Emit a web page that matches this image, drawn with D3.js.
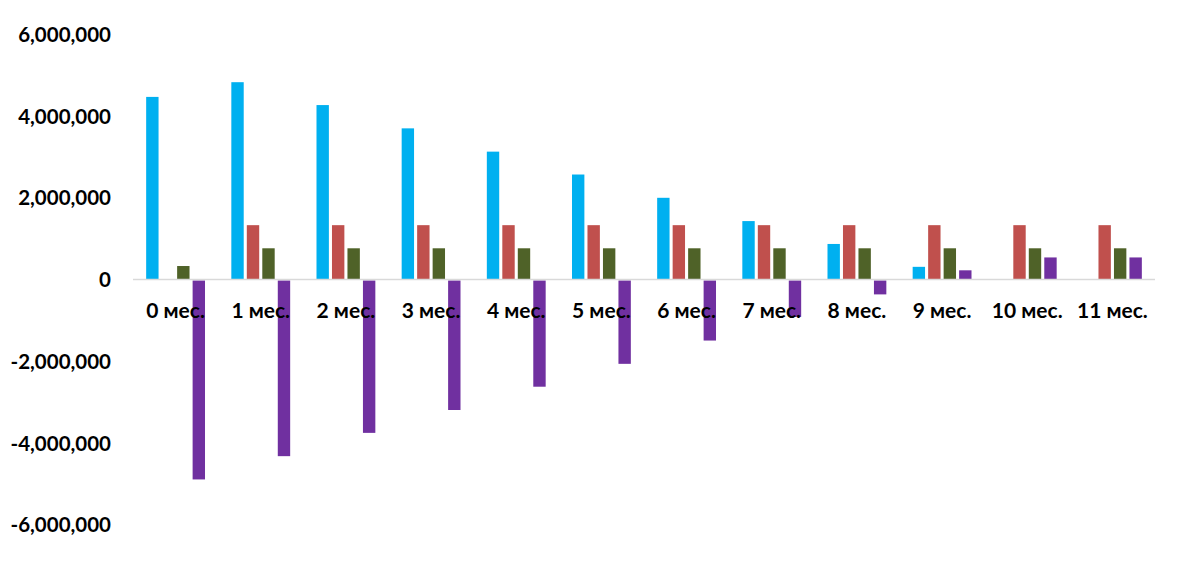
<!DOCTYPE html>
<html>
<head>
<meta charset="utf-8">
<script src="https://cdn.jsdelivr.net/npm/d3@7"></script>
<style>
  body { margin: 0; background: #fff; }
  text { font-family: Lato, "Open Sans", sans-serif; font-weight: bold; fill: #000; }
</style>
</head>
<body>
<script>
// months and the four series
var months = ["0 мес.", "1 мес.", "2 мес.", "3 мес.", "4 мес.", "5 мес.",
              "6 мес.", "7 мес.", "8 мес.", "9 мес.", "10 мес.", "11 мес."];
var seriesNames = ["s1", "s2", "s3", "s4"];
var s1 = [4470000, 4830000, 4270000, 3700000, 3130000, 2570000, 2000000, 1430000, 870000, 310000, 0, 0];
var s2 = [0, 1330000, 1330000, 1330000, 1330000, 1330000, 1330000, 1330000, 1330000, 1330000, 1330000, 1330000];
var s3 = [330000, 764000, 764000, 764000, 764000, 764000, 764000, 764000, 764000, 764000, 764000, 764000];
var s4 = [-4870000, -4300000, -3730000, -3170000, -2600000, -2040000, -1470000, -890000, -340000, 225000, 540000, 540000];
var yTicks = [-6000000, -4000000, -2000000, 0, 2000000, 4000000, 6000000];
var colors = ["#00B0F0", "#C0504D", "#4F6228", "#7030A0"];

var width = 1200, height = 588;

var svg = d3.select("body").append("svg")
    .attr("width", width)
    .attr("height", height);

var x0 = d3.scaleBand().domain(months).range([133, 1155]);
var x1 = d3.scaleBand().domain(seriesNames)
    .range([0, x0.bandwidth()])
    .paddingInner(0.2)
    .paddingOuter(0.85);
var y = d3.scaleLinear().domain([-6000000, 6000000]).range([524.6, 34.4]);
var color = d3.scaleOrdinal().domain(seriesNames).range(colors);

// plain hyphen for negatives, like the original
var fmt = d3.formatLocale({decimal: ".", thousands: ",", grouping: [3], currency: ["", ""], minus: "-"}).format(",");

var rows = months.map(function(m, i) {
  return { month: m, values: [s1[i], s2[i], s3[i], s4[i]] };
});

// y axis labels only, no line
var yAxis = d3.axisLeft(y).tickValues(yTicks).tickFormat(fmt).tickSize(0).tickPadding(0);
svg.append("g")
    .attr("class", "axis axis--y")
    .attr("transform", "translate(111,0)")
    .call(yAxis)
    .call(function(g) { g.select(".domain").remove(); })
    .selectAll("text")
    .attr("dy", "0.35em")
    .style("font-size", "20.5px");

// bars
var groups = svg.selectAll(".month")
    .data(rows)
  .enter().append("g")
    .attr("class", "month")
    .attr("transform", function(d) { return "translate(" + x0(d.month) + ",0)"; });

groups.selectAll("rect")
    .data(function(d) { return d.values.map(function(v, k) { return { key: seriesNames[k], value: v }; }); })
  .enter().append("rect")
    .attr("x", function(d) { return x1(d.key); })
    .attr("width", x1.bandwidth())
    .attr("y", function(d) { return d.value >= 0 ? y(d.value) : y(0) + 1; })
    .attr("height", function(d) { return Math.abs(y(d.value) - y(0)); })
    .style("fill", function(d) { return color(d.key); });

// zero line
svg.append("line")
    .attr("x1", 133).attr("x2", 1155)
    .attr("y1", y(0)).attr("y2", y(0))
    .style("stroke", "#D9D9D9")
    .style("stroke-width", 1.5);

// category labels
var xAxis = d3.axisBottom(x0).tickSize(0).tickPadding(0);
svg.append("g")
    .attr("class", "axis axis--x")
    .attr("transform", "translate(0,311)")
    .call(xAxis)
    .call(function(g) { g.select(".domain").remove(); })
    .selectAll("text")
    .attr("dy", "0.35em")
    .style("font-size", "21px");
</script>
</body>
</html>
